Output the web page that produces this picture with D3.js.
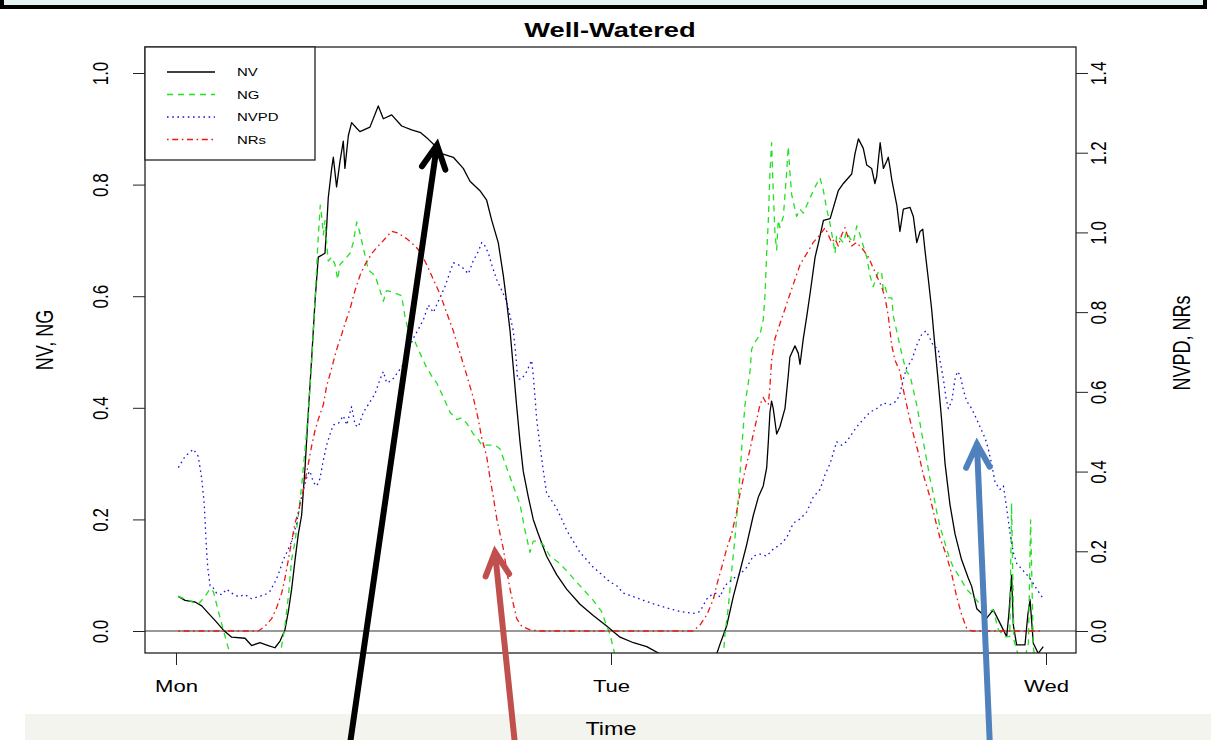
<!DOCTYPE html>
<html>
<head>
<meta charset="utf-8">
<script src="https://cdn.jsdelivr.net/npm/d3@7"></script>
<style>
  body { margin: 0; background: #fff; }
  svg { display: block; }
  text { font-family: "Liberation Sans", Arial, sans-serif; fill: #000; }
</style>
</head>
<body>
<svg id="chart" width="1211" height="740"></svg>
<script>
// ---- data: hours since Monday 00:00, normalised values ----
const xTickHours = [0, 24, 48];
const xTickLabels = ["Mon", "Tue", "Wed"];
const leftTicks = [0, 0.2, 0.4, 0.6, 0.8, 1.0];
const rightTicks = [0, 0.2, 0.4, 0.6, 0.8, 1.0, 1.2, 1.4];
const seriesNames = ["NV", "NG", "NVPD", "NRs"];

const NV = [[0.13,0.062],[0.50,0.055],[1.05,0.052],[1.42,0.045],[1.78,0.032],[2.15,0.019],[2.61,0.002],[3.07,-0.011],[3.81,-0.013],[4.17,-0.026],[4.63,-0.021],[5.09,-0.026],[5.46,-0.030],[5.74,-0.018],[6.01,0.002],[6.20,0.035],[6.38,0.075],[6.57,0.128],[6.75,0.174],[6.93,0.207],[7.12,0.293],[7.30,0.392],[7.49,0.491],[7.67,0.591],[7.85,0.670],[8.22,0.677],[8.31,0.723],[8.40,0.776],[8.59,0.829],[8.68,0.849],[8.86,0.796],[9.05,0.842],[9.23,0.878],[9.32,0.829],[9.51,0.888],[9.69,0.911],[9.97,0.901],[10.15,0.895],[10.70,0.903],[11.16,0.941],[11.44,0.918],[11.90,0.925],[12.45,0.905],[13.00,0.898],[13.50,0.893],[13.90,0.882],[14.25,0.871],[14.70,0.855],[15.30,0.849],[15.85,0.829],[16.22,0.806],[16.77,0.789],[17.14,0.772],[17.42,0.736],[17.78,0.696],[18.06,0.637],[18.24,0.591],[18.43,0.538],[18.61,0.472],[18.79,0.405],[18.98,0.339],[19.16,0.286],[19.44,0.240],[19.71,0.200],[19.99,0.174],[20.45,0.134],[21.00,0.101],[21.55,0.075],[22.29,0.048],[23.02,0.028],[23.76,0.009],[24.50,-0.011],[25.24,-0.021],[25.97,-0.028],[26.70,-0.041],[27.50,-0.055],[28.50,-0.065],[29.30,-0.058],[29.83,-0.041],[30.01,-0.024],[30.38,0.009],[30.75,0.062],[31.12,0.108],[31.48,0.154],[31.85,0.207],[32.13,0.240],[32.40,0.260],[32.59,0.293],[32.68,0.339],[32.77,0.392],[32.86,0.412],[32.95,0.399],[33.14,0.353],[33.32,0.366],[33.60,0.399],[33.78,0.458],[33.87,0.491],[34.15,0.511],[34.33,0.498],[34.43,0.478],[34.61,0.524],[34.80,0.564],[34.98,0.604],[35.26,0.670],[35.45,0.696],[35.72,0.736],[36.09,0.739],[36.54,0.789],[36.82,0.802],[37.28,0.819],[37.46,0.855],[37.65,0.882],[37.92,0.865],[38.11,0.835],[38.38,0.829],[38.56,0.802],[38.66,0.815],[38.85,0.875],[39.03,0.829],[39.21,0.842],[39.30,0.849],[39.40,0.829],[39.49,0.809],[39.77,0.763],[39.94,0.716],[40.13,0.756],[40.50,0.759],[40.68,0.743],[40.87,0.696],[41.05,0.716],[41.20,0.720],[41.32,0.683],[41.51,0.630],[41.69,0.577],[41.87,0.511],[42.06,0.445],[42.24,0.379],[42.43,0.300],[42.70,0.227],[42.98,0.174],[43.34,0.128],[43.71,0.095],[43.90,0.080],[44.18,0.040],[44.73,0.023],[45.09,0.038],[45.37,0.020],[45.83,-0.010],[45.95,0.030],[46.10,0.100],[46.20,0.010],[46.38,-0.025],[46.84,-0.025],[47.00,0.030],[47.12,0.056],[47.30,-0.022],[47.57,-0.040],[47.85,-0.028]];

const NG = [[0.13,0.062],[0.68,0.055],[1.23,0.048],[1.60,0.062],[1.88,0.076],[2.06,0.071],[2.34,0.035],[2.61,0.002],[2.89,-0.031],[3.07,-0.051],[3.40,-0.120],[5.40,-0.120],[5.74,-0.044],[6.01,0.009],[6.20,0.062],[6.38,0.128],[6.57,0.161],[6.75,0.207],[6.93,0.260],[7.12,0.326],[7.30,0.392],[7.49,0.485],[7.58,0.538],[7.71,0.617],[7.82,0.690],[7.96,0.763],[8.04,0.743],[8.13,0.710],[8.22,0.736],[8.31,0.696],[8.40,0.663],[8.59,0.670],[8.77,0.657],[8.92,0.630],[9.05,0.657],[9.23,0.663],[9.42,0.670],[9.60,0.677],[9.78,0.696],[9.97,0.733],[10.15,0.713],[10.61,0.647],[10.98,0.637],[11.26,0.610],[11.44,0.591],[11.62,0.610],[11.99,0.607],[12.45,0.601],[12.63,0.564],[12.82,0.538],[13.00,0.524],[13.19,0.518],[13.46,0.498],[13.83,0.472],[14.20,0.452],[14.38,0.445],[14.75,0.419],[15.12,0.392],[15.49,0.379],[15.76,0.382],[16.04,0.372],[16.41,0.353],[16.68,0.343],[16.87,0.333],[17.14,0.333],[17.60,0.333],[17.88,0.326],[18.24,0.293],[18.61,0.260],[18.98,0.227],[19.25,0.181],[19.53,0.141],[19.71,0.161],[19.99,0.161],[20.27,0.154],[20.64,0.134],[21.18,0.121],[21.74,0.101],[22.29,0.081],[23.02,0.055],[23.48,0.035],[23.76,0.009],[23.94,-0.005],[24.13,-0.031],[24.22,-0.044],[24.50,-0.140],[29.90,-0.140],[30.20,-0.044],[30.29,-0.005],[30.47,0.042],[30.66,0.108],[30.84,0.167],[31.03,0.240],[31.21,0.326],[31.39,0.405],[31.67,0.465],[31.76,0.505],[31.95,0.518],[32.22,0.531],[32.40,0.558],[32.50,0.604],[32.59,0.677],[32.68,0.736],[32.77,0.822],[32.86,0.875],[32.95,0.789],[33.05,0.710],[33.14,0.683],[33.23,0.736],[33.32,0.723],[33.51,0.743],[33.60,0.782],[33.69,0.822],[33.78,0.868],[33.87,0.822],[33.97,0.782],[34.06,0.769],[34.24,0.743],[34.43,0.756],[34.61,0.749],[34.80,0.763],[34.98,0.776],[35.26,0.796],[35.53,0.812],[35.72,0.789],[35.90,0.756],[36.09,0.729],[36.27,0.696],[36.36,0.677],[36.45,0.710],[36.64,0.703],[36.82,0.696],[37.00,0.716],[37.19,0.703],[37.37,0.696],[37.56,0.726],[37.74,0.710],[37.92,0.690],[38.11,0.670],[38.29,0.637],[38.47,0.617],[38.75,0.644],[38.93,0.644],[39.02,0.610],[39.12,0.617],[39.30,0.597],[39.49,0.597],[39.58,0.564],[39.76,0.538],[39.94,0.511],[40.13,0.485],[40.31,0.465],[40.50,0.458],[40.68,0.432],[40.87,0.405],[41.05,0.372],[41.23,0.339],[41.42,0.306],[41.60,0.273],[41.78,0.247],[41.97,0.214],[42.15,0.187],[42.34,0.167],[42.52,0.147],[42.70,0.128],[42.89,0.114],[43.26,0.095],[43.62,0.075],[43.99,0.062],[44.36,0.048],[44.72,0.035],[45.09,0.038],[45.37,0.002],[45.74,-0.010],[46.00,-0.010],[46.10,0.229],[46.23,-0.016],[46.38,-0.034],[46.50,-0.045],[46.90,-0.040],[47.03,-0.022],[47.15,0.199],[47.30,-0.028],[47.50,-0.080]];

const NVPD = [[0.13,0.410],[0.50,0.438],[0.96,0.456],[1.23,0.438],[1.42,0.382],[1.56,0.318],[1.66,0.225],[1.75,0.160],[1.88,0.114],[1.97,0.114],[2.24,0.095],[2.52,0.091],[2.80,0.105],[3.07,0.095],[3.44,0.086],[3.81,0.091],[4.17,0.081],[4.54,0.086],[4.91,0.091],[5.19,0.100],[5.46,0.123],[5.65,0.142],[5.92,0.179],[6.11,0.197],[6.38,0.225],[6.66,0.271],[6.84,0.318],[7.08,0.364],[7.26,0.392],[7.39,0.401],[7.58,0.373],[7.76,0.364],[7.94,0.382],[8.13,0.429],[8.31,0.466],[8.50,0.494],[8.68,0.517],[8.96,0.521],[9.23,0.540],[9.42,0.517],[9.69,0.563],[9.88,0.517],[10.06,0.512],[10.34,0.549],[10.61,0.568],[10.98,0.595],[11.26,0.632],[11.44,0.651],[11.62,0.623],[11.90,0.628],[12.27,0.651],[12.54,0.669],[12.82,0.706],[13.09,0.734],[13.37,0.757],[13.65,0.781],[13.92,0.818],[14.20,0.799],[14.47,0.827],[14.84,0.864],[15.12,0.901],[15.30,0.924],[15.58,0.919],[15.85,0.910],[16.13,0.896],[16.40,0.929],[16.68,0.952],[16.87,0.975],[17.05,0.966],[17.24,0.947],[17.42,0.919],[17.69,0.882],[17.97,0.855],[18.24,0.827],[18.43,0.790],[18.61,0.753],[18.74,0.697],[18.85,0.632],[19.07,0.632],[19.35,0.651],[19.62,0.679],[19.71,0.642],[19.81,0.586],[19.90,0.531],[20.08,0.466],[20.27,0.401],[20.45,0.345],[20.73,0.327],[21.00,0.308],[21.28,0.281],[21.55,0.253],[21.92,0.225],[22.29,0.197],[22.65,0.179],[23.02,0.160],[23.48,0.142],[23.94,0.123],[24.31,0.114],[24.68,0.095],[25.23,0.086],[25.78,0.077],[26.34,0.068],[27.07,0.058],[27.81,0.049],[28.54,0.044],[28.91,0.049],[29.28,0.080],[29.55,0.091],[29.83,0.095],[30.01,0.085],[30.29,0.114],[30.75,0.132],[31.12,0.142],[31.49,0.160],[31.85,0.188],[32.22,0.193],[32.59,0.188],[32.96,0.206],[33.32,0.216],[33.69,0.234],[34.06,0.271],[34.43,0.281],[34.80,0.299],[35.16,0.336],[35.53,0.355],[35.81,0.392],[36.08,0.419],[36.45,0.475],[36.73,0.466],[37.00,0.475],[37.28,0.494],[37.55,0.512],[37.92,0.531],[38.29,0.549],[38.66,0.558],[39.03,0.572],[39.39,0.568],[39.76,0.577],[39.94,0.595],[40.13,0.632],[40.31,0.660],[40.59,0.679],[40.86,0.716],[41.14,0.744],[41.38,0.753],[41.60,0.734],[41.78,0.716],[42.06,0.706],[42.15,0.679],[42.34,0.632],[42.48,0.586],[42.61,0.558],[42.80,0.577],[42.98,0.632],[43.11,0.651],[43.26,0.642],[43.44,0.605],[43.62,0.577],[43.90,0.558],[44.18,0.531],[44.45,0.503],[44.64,0.484],[44.82,0.456],[45.00,0.419],[45.19,0.373],[45.46,0.355],[45.65,0.364],[45.83,0.308],[46.02,0.244],[46.20,0.197],[46.39,0.169],[46.75,0.151],[47.12,0.132],[47.49,0.105],[47.85,0.081]];

const NRs = [[0.13,0],[1.50,0],[3.00,0],[4.54,0],[4.91,0.012],[5.28,0.031],[5.55,0.058],[5.83,0.095],[6.01,0.132],[6.20,0.179],[6.38,0.225],[6.57,0.271],[6.75,0.299],[7.03,0.355],[7.30,0.419],[7.49,0.466],[7.67,0.503],[7.85,0.531],[8.13,0.568],[8.31,0.614],[8.59,0.660],[8.86,0.706],[9.14,0.744],[9.32,0.771],[9.60,0.808],[9.88,0.855],[10.15,0.892],[10.43,0.919],[10.80,0.947],[11.16,0.966],[11.53,0.984],[11.90,1.003],[12.27,0.998],[12.73,0.984],[13.19,0.966],[13.50,0.950],[13.83,0.919],[14.20,0.882],[14.57,0.845],[14.93,0.799],[15.30,0.753],[15.67,0.697],[16.04,0.642],[16.40,0.586],[16.68,0.531],[16.87,0.484],[17.14,0.438],[17.33,0.382],[17.51,0.336],[17.70,0.281],[17.88,0.244],[18.06,0.206],[18.25,0.151],[18.43,0.105],[18.61,0.068],[18.80,0.031],[19.07,0.012],[19.53,0.003],[20.08,0],[24.00,0],[28.54,0],[28.91,0.015],[29.28,0.040],[29.65,0.080],[29.83,0.115],[30.11,0.160],[30.38,0.206],[30.66,0.244],[30.93,0.299],[31.12,0.345],[31.39,0.401],[31.67,0.456],[31.85,0.494],[32.04,0.531],[32.22,0.568],[32.40,0.586],[32.50,0.577],[32.68,0.568],[32.77,0.614],[32.86,0.679],[33.05,0.734],[33.32,0.771],[33.60,0.808],[33.87,0.845],[34.15,0.882],[34.43,0.919],[34.80,0.947],[35.16,0.975],[35.53,0.994],[35.81,1.012],[35.99,0.994],[36.17,0.975],[36.36,0.984],[36.54,0.966],[36.73,0.994],[36.91,1.012],[37.10,0.984],[37.28,0.966],[37.55,0.975],[37.92,0.956],[38.20,0.938],[38.47,0.910],[38.75,0.882],[38.93,0.864],[39.12,0.836],[39.30,0.790],[39.49,0.716],[39.67,0.679],[39.94,0.651],[40.13,0.605],[40.40,0.549],[40.68,0.494],[40.96,0.447],[41.23,0.392],[41.60,0.336],[41.88,0.281],[42.15,0.234],[42.52,0.188],[42.80,0.142],[43.07,0.086],[43.35,0.040],[43.62,0.007],[43.90,0],[46.00,0],[47.85,0]];

// series styling (R-like lty: solid, dashed, dotted, dot-dash)
const seriesStyle = {
  NV:   { data: NV,   axis: "left",  color: "#000000", dash: null },
  NG:   { data: NG,   axis: "left",  color: "#22e022", dash: "6,5" },
  NVPD: { data: NVPD, axis: "right", color: "#1414e0", dash: "1.6,3.6" },
  NRs:  { data: NRs,  axis: "right", color: "#f01414", dash: "1.6,3.6,6,3.6" }
};

// annotation arrows: tip on a curve (hour, value on its axis), tail leaves the bottom edge
const arrowNotes = [
  { color: "#000000", axis: "left",  tipHour: 14.40, tipValue: 0.871, tailHour: 9.60 },
  { color: "#c0504d", axis: "right", tipHour: 17.60, tipValue: 0.198, tailHour: 18.70 },
  { color: "#4f81bd", axis: "right", tipHour: 44.19, tipValue: 0.469, tailHour: 44.90 }
];

// ---- layout ----
const W = 1211, H = 740;
const box = { left: 145, right: 1076, top: 47, bottom: 653 };
const SX = 1.3;            // text is drawn horizontally widened
const tickFont = 17, labelFont = 18;

const svg = d3.select("#chart");
svg.append("rect").attr("width", W).attr("height", H).attr("fill", "#fff");

const x = d3.scaleLinear().domain([-1.71, 49.655]).range([box.left, box.right]);
const yLeft = d3.scaleLinear().domain([-0.0394, 1.0466]).range([box.bottom, box.top]);
const yRight = d3.scaleLinear().domain([-0.0552, 1.4652]).range([box.bottom, box.top]);
const yOf = a => a === "left" ? yLeft : yRight;

// page frame strip at top and footer band
svg.append("rect").attr("x", 2).attr("y", -12).attr("width", 1203).attr("height", 19)
  .attr("fill", "#e2f2f5").attr("stroke", "#000").attr("stroke-width", 4);
svg.append("rect").attr("x", 25).attr("y", 714).attr("width", W - 25).attr("height", 26)
  .attr("fill", "#f4f4ee");

// clip for the data region
svg.append("defs").append("clipPath").attr("id", "plotClip")
  .append("rect").attr("x", box.left).attr("y", box.top)
  .attr("width", box.right - box.left).attr("height", box.bottom - box.top);

// ---- axes ----
const fmt = d3.format(".1f");

const xAxis = svg.append("g").attr("transform", `translate(0,${box.bottom})`)
  .call(d3.axisBottom(x).tickValues(xTickHours).tickFormat((d, i) => xTickLabels[i]).tickSize(12).tickPadding(0));
xAxis.select(".domain").remove();
xAxis.selectAll("line").attr("stroke", "#222");
xAxis.selectAll("text").attr("y", null).attr("dy", null)
  .attr("font-size", tickFont)
  .attr("transform", `translate(0,39) scale(${SX},1)`);

const leftAxis = svg.append("g").attr("transform", `translate(${box.left},0)`)
  .call(d3.axisLeft(yLeft).tickValues(leftTicks).tickFormat(fmt).tickSize(12));
leftAxis.select(".domain").remove();
leftAxis.selectAll("line").attr("stroke", "#222");
leftAxis.selectAll("text").attr("x", null).attr("dy", null)
  .attr("font-size", tickFont).attr("text-anchor", "middle")
  .attr("transform", `translate(-37,0) scale(${SX},1) rotate(-90)`);

const rightAxis = svg.append("g").attr("transform", `translate(${box.right},0)`)
  .call(d3.axisRight(yRight).tickValues(rightTicks).tickFormat(fmt).tickSize(12));
rightAxis.select(".domain").remove();
rightAxis.selectAll("line").attr("stroke", "#222");
rightAxis.selectAll("text").attr("x", null).attr("dy", null)
  .attr("font-size", tickFont).attr("text-anchor", "middle")
  .attr("transform", `translate(30,0) scale(${SX},1) rotate(-90)`);

// titles
svg.append("text").attr("text-anchor", "middle").attr("font-weight", "bold").attr("font-size", 21)
  .attr("transform", `translate(610,37) scale(${SX},1)`).text("Well-Watered");
svg.append("text").attr("text-anchor", "middle").attr("font-size", labelFont)
  .attr("transform", `translate(611,735) scale(${SX},1)`).text("Time");
svg.append("text").attr("text-anchor", "middle").attr("font-size", labelFont)
  .attr("transform", `translate(53,340) scale(${SX},1) rotate(-90)`).text("NV, NG");
svg.append("text").attr("text-anchor", "middle").attr("font-size", labelFont)
  .attr("transform", `translate(1190,343) scale(${SX},1) rotate(-90)`).text("NVPD, NRs");

// ---- plot content ----
const plotG = svg.append("g").attr("clip-path", "url(#plotClip)");

plotG.append("line")
  .attr("x1", box.left).attr("x2", box.right)
  .attr("y1", yLeft(0)).attr("y2", yLeft(0))
  .attr("stroke", "#333").attr("stroke-width", 1.2);

// draw order: NV, NG, NVPD, NRs
seriesNames.forEach(name => {
  const s = seriesStyle[name];
  const y = yOf(s.axis);
  const line = d3.line().x(d => x(d[0])).y(d => y(d[1]));
  plotG.append("path").datum(s.data)
    .attr("d", line)
    .attr("fill", "none")
    .attr("stroke", s.color)
    .attr("stroke-width", 1.3)
    .attr("stroke-dasharray", s.dash)
    .attr("stroke-linejoin", "round");
});

// plot box
svg.append("rect").attr("x", box.left).attr("y", box.top)
  .attr("width", box.right - box.left).attr("height", box.bottom - box.top)
  .attr("fill", "none").attr("stroke", "#222").attr("stroke-width", 1.3);

// ---- legend ----
const legend = svg.append("g");
legend.append("rect").attr("x", box.left).attr("y", box.top).attr("width", 170).attr("height", 113)
  .attr("fill", "#fff").attr("stroke", "#222").attr("stroke-width", 1.3);
seriesNames.forEach((name, i) => {
  const s = seriesStyle[name];
  const yy = 72 + i * 22.5;
  legend.append("line").attr("x1", 167).attr("x2", 215).attr("y1", yy).attr("y2", yy)
    .attr("stroke", s.color).attr("stroke-width", 1.3).attr("stroke-dasharray", s.dash);
  legend.append("text").attr("font-size", 11.5)
    .attr("transform", `translate(237,${yy + 4}) scale(${SX},1)`).text(name);
});

// ---- annotation arrows ----
const arrowG = svg.append("g");
arrowNotes.forEach(a => {
  const tx = x(a.tipHour), ty = yOf(a.axis)(a.tipValue);
  const bx = x(a.tailHour), by = H + 4;
  const ang = Math.atan2(by - ty, bx - tx);
  const len = 26, spread = 27 * Math.PI / 180;
  const arm = s => [tx + len * Math.cos(ang + s), ty + len * Math.sin(ang + s)];
  const [l1x, l1y] = arm(spread), [l2x, l2y] = arm(-spread);
  arrowG.append("path")
    .attr("d", `M${bx},${by}L${tx},${ty}M${l1x},${l1y}L${tx},${ty}L${l2x},${l2y}`)
    .attr("fill", "none").attr("stroke", a.color).attr("stroke-width", 6)
    .attr("stroke-linecap", "round").attr("stroke-linejoin", "miter");
});
</script>
</body>
</html>
